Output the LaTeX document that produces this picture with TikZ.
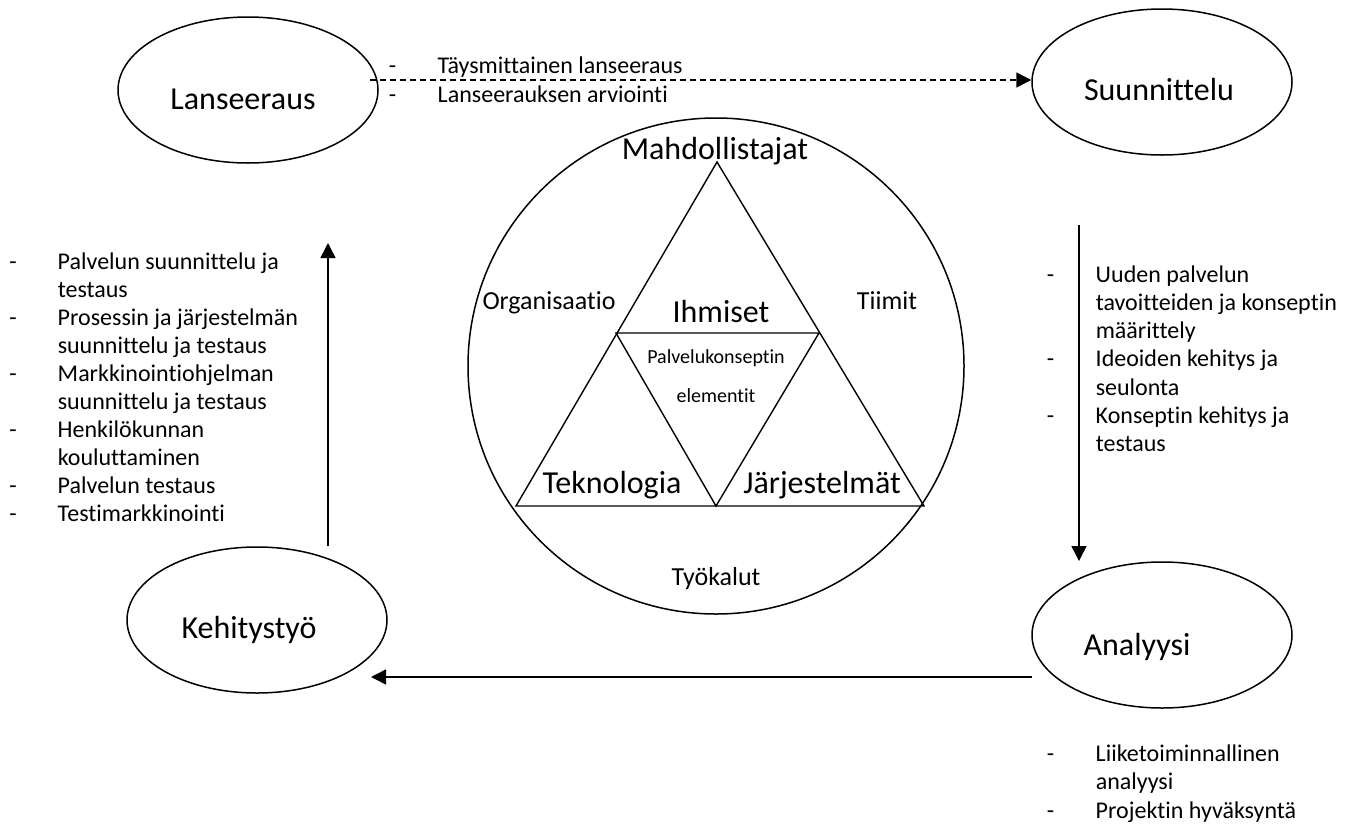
\documentclass[tikz,border=0pt]{standalone}
\usepackage{fontspec}
\setmainfont{Carlito}[Ligatures={NoCommon}]
\usetikzlibrary{arrows.meta,shapes.geometric}
\begin{document}
\begin{tikzpicture}[x=1pt,y=-1pt, line width=1.5pt,
  ell/.style={draw, ellipse, minimum width=260pt, minimum height=146pt, inner sep=0pt},
  big/.style={font=\fontsize{32}{38}\selectfont, inner sep=0pt, anchor=base},
  mid/.style={font=\fontsize{26}{31}\selectfont, inner sep=0pt, anchor=base},
  small/.style={font=\fontsize{20}{24}\selectfont, inner sep=0pt, anchor=base},
  lst/.style={font=\fontsize{24}{28}\selectfont, inner sep=0pt, anchor=base west},
  arr/.style={-{Triangle[length=15pt,width=15pt]}},
  dasharr/.style={arr, dash pattern=on 6pt off 4pt},
]
\useasboundingbox (0,0) rectangle (1347,825);

% outer ellipses
\node[ell] (lan) at (248,90) {};
\node[big] (lanT) at (243,109) {Lanseeraus};
\node[ell] (sun) at (1162,82) {};
\node[big] (sunT) at (1159,100) {Suunnittelu};
\node[ell] (keh) at (257,620) {};
\node[big] (kehT) at (249,638) {Kehitystyö};
\node[ell] (ana) at (1162,635) {};
\node[big] (anaT) at (1137,655) {Analyysi};

% central circle and triangle
\node[draw, circle, minimum size=496pt, inner sep=0pt] (circ) at (716,366) {};
\coordinate (tA) at (717,162);
\coordinate (tL) at (616,333);
\coordinate (tR) at (819,333);
\coordinate (tBL) at (516,506);
\coordinate (tBM) at (716,506);
\coordinate (tBR) at (924,506);
\draw[line width=1.4pt] (tA) -- (tBR) -- (tBL) -- cycle;
\draw[line width=1.4pt] (tL) -- (tR) -- (tBM) -- cycle;

\node[big] (mah) at (715,159) {Mahdollistajat};
\node[big] (ihm) at (721,322) {Ihmiset};
\node[big] (tek) at (612,493) {Teknologia};
\node[big] (jar) at (822,493) {Järjestelmät};
\node[mid] (org) at (549,309) {Organisaatio};
\node[mid] (tii) at (887,309) {Tiimit};
\node[mid] (tyo) at (716,585) {Työkalut};
\node[small] (pk1) at (716,363) {Palvelukonseptin};
\node[small] (pk2) at (716,402) {elementit};

% connectors
\draw[dasharr] ([xshift=-9pt,yshift=10pt]lan.east) -- ([yshift=2pt]sun.west);
\coordinate (d1) at (1079,225);
\coordinate (d2) at (1079,561);
\draw[arr] (d1) -- (d2);
\coordinate (h1) at (1032,677);
\coordinate (h2) at (371,677);
\draw[arr] (h1) -- (h2);
\coordinate (u1) at (328,546);
\coordinate (u2) at (328,243);
\draw[arr] (u1) -- (u2);

% lists
\node[lst, font=\fontsize{24}{29}\selectfont] (topl) at (388,73) {\begin{tabular}[t]{@{}p{49pt}@{}l@{}}
- & Täysmittainen lanseeraus\\
- & Lanseerauksen arviointi
\end{tabular}};

\node[lst] (leftl) at (8.5,269) {\begin{tabular}[t]{@{}p{48.5pt}@{}l@{}}
- & Palvelun suunnittelu ja\\
  & testaus\\
- & Prosessin ja järjestelmän\\
  & suunnittelu ja testaus\\
- & Markkinointiohjelman\\
  & suunnittelu ja testaus\\
- & Henkilökunnan\\
  & kouluttaminen\\
- & Palvelun testaus\\
- & Testimarkkinointi
\end{tabular}};

\node[lst, font=\fontsize{24}{28.3}\selectfont] (rightl) at (1046,282) {\begin{tabular}[t]{@{}p{49pt}@{}l@{}}
- & Uuden palvelun\\
  & tavoitteiden ja konseptin\\
  & määrittely\\
- & Ideoiden kehitys ja\\
  & seulonta\\
- & Konseptin kehitys ja\\
  & testaus
\end{tabular}};

\node[lst, font=\fontsize{24}{28.5}\selectfont] (botl) at (1046,761) {\begin{tabular}[t]{@{}p{49pt}@{}l@{}}
- & Liiketoiminnallinen\\
  & analyysi\\
- & Projektin hyväksyntä
\end{tabular}};
\end{tikzpicture}
\end{document}
